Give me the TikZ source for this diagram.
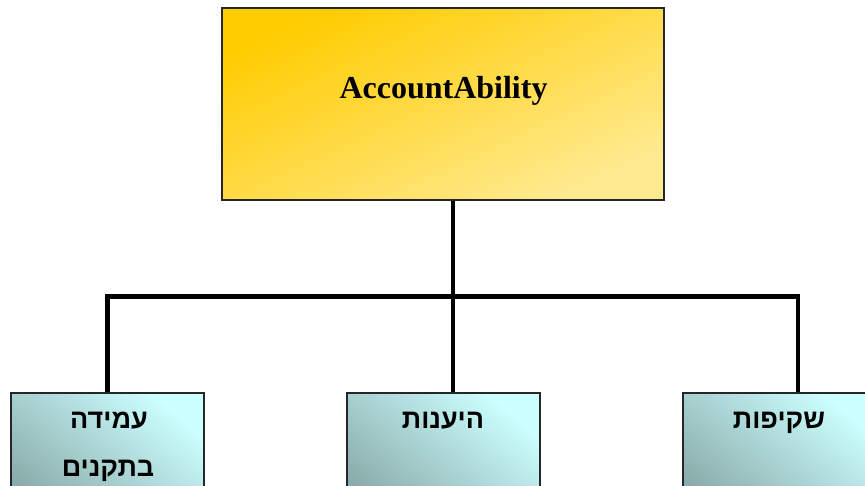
\documentclass[tikz,border=0pt]{standalone}
\usepackage{fontspec}
\setmainfont{Liberation Serif}
\newfontfamily\hebfont[Script=Hebrew]{Liberation Sans}
\TeXXeTstate=1
\begin{document}
\begin{tikzpicture}[x=1pt,y=-1pt,
  topbox/.style={draw=black!85,line width=2pt,minimum width=442pt,minimum height=192pt,inner sep=0pt,
    top color={rgb,255:red,255;green,204;blue,0},bottom color={rgb,255:red,255;green,234;blue,145},shading angle=25},
  subbox/.style={draw=black!85,line width=2pt,minimum width=193pt,minimum height=140pt,inner sep=0pt,
    top color={rgb,255:red,204;green,255;blue,255},bottom color={rgb,255:red,135;green,168;blue,166},shading angle=-40},
  conn/.style={line width=4.5pt,black},
  hebtext/.style={font=\hebfont\bfseries\fontsize{27}{32}\selectfont,anchor=base,inner sep=0pt},
]
\useasboundingbox (0,0) rectangle (865,486);
\clip (0,0) rectangle (865,486);
% boxes
\node[topbox] (top) at (443,104) {};
\node[subbox] (left) at (107.5,462.5) {};
\node[subbox] (mid) at (443.5,462.5) {};
\node[subbox] (right) at (779.5,462.5) {};
% texts
\node[font=\bfseries\fontsize{32}{36}\selectfont,anchor=base,inner sep=0pt] (toptxt) at (443.5,99) {AccountAbility};
\node[hebtext] (l1) at (109,428) {\beginR עמידה\endR};
\node[hebtext] (l2) at (108,476) {\beginR בתקנים\endR};
\node[hebtext] (m1) at (443,428) {\beginR היענות\endR};
\node[hebtext] (r1) at (779,428) {\beginR שקיפות\endR};
% connectors
\coordinate (tb) at (453,201);
\coordinate (jm) at (453,296.5);
\coordinate (jl) at (107.5,296.5);
\coordinate (jr) at (798,296.5);
\draw[conn] (tb) -- (jm);
\draw[conn] ([xshift=-2.25pt]jl) -- ([xshift=2.25pt]jr);
\draw[conn] (jl) -- (jl |- left.north);
\draw[conn] (jm) -- (jm |- mid.north);
\draw[conn] (jr) -- (jr |- right.north);
\end{tikzpicture}
\end{document}
